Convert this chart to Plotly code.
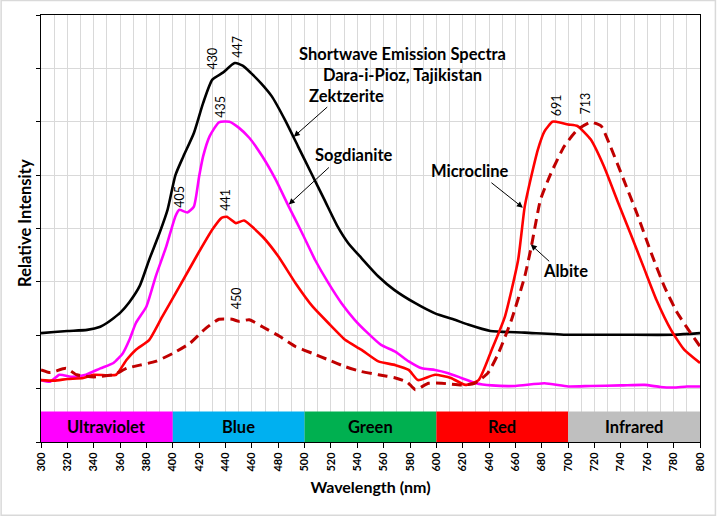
import plotly.graph_objects as go

# wavelength (nm) / relative intensity
zek_wl = [300, 310, 320, 335, 345, 350, 355, 360, 367, 375, 382, 390, 396, 402, 408, 416, 423, 430, 438, 447,
          453, 459, 467, 475, 485, 495, 505, 515, 525, 533, 543, 556, 568, 584, 599, 614, 624, 641, 667, 700,
          740, 780, 800]
zek_int = [2.04, 2.06, 2.08, 2.10, 2.16, 2.23, 2.32, 2.42, 2.62, 2.93, 3.41, 3.92, 4.35, 5.00, 5.35, 5.79, 6.35,
           6.79, 6.92, 7.10, 7.05, 6.92, 6.72, 6.48, 6.04, 5.54, 5.04, 4.54, 4.04, 3.73, 3.45, 3.10, 2.85, 2.60,
           2.41, 2.29, 2.20, 2.08, 2.05, 2.01, 2.01, 2.01, 2.04]

sog_wl = [300, 307, 314, 324, 334, 345, 355, 362, 367, 372, 380, 387, 395, 402, 405, 411, 416, 420, 423, 428,
          435, 443, 450, 458, 468, 478, 488, 498, 508, 518, 528, 538, 548, 558, 569, 579, 589, 599, 609, 619,
          630, 642, 660, 682, 700, 717, 740, 758, 770, 780, 790, 800]
sog_int = [1.16, 1.13, 1.26, 1.22, 1.26, 1.38, 1.48, 1.66, 1.91, 2.23, 2.54, 3.10, 3.66, 4.23, 4.35, 4.30, 4.41,
           4.98, 5.35, 5.73, 5.99, 6.00, 5.89, 5.70, 5.35, 4.92, 4.41, 3.92, 3.41, 2.98, 2.60, 2.29, 2.04, 1.82,
           1.69, 1.51, 1.38, 1.35, 1.29, 1.20, 1.10, 1.06, 1.05, 1.10, 1.04, 1.05, 1.06, 1.07, 1.03, 1.02, 1.04,
           1.04]

mic_wl = [300, 310, 320, 332, 340, 350, 357, 365, 372, 382, 392, 405, 418, 430, 437, 441, 448, 454, 468, 480,
          493, 506, 518, 531, 543, 556, 569, 579, 586, 599, 611, 622, 632, 642, 652, 662, 667, 672, 677, 682,
          688, 691, 700, 707, 717, 727, 737, 747, 757, 767, 778, 788, 800]
mic_int = [1.16, 1.15, 1.18, 1.20, 1.26, 1.25, 1.26, 1.54, 1.73, 1.91, 2.35, 2.91, 3.48, 3.98, 4.20, 4.22, 4.10,
           4.15, 3.85, 3.48, 2.98, 2.54, 2.23, 1.91, 1.73, 1.51, 1.44, 1.35, 1.16, 1.26, 1.20, 1.07, 1.16, 1.73,
           2.35, 3.41, 4.41, 4.98, 5.48, 5.82, 6.00, 6.00, 5.95, 5.92, 5.67, 5.17, 4.54, 3.92, 3.29, 2.66, 2.10,
           1.73, 1.48]

alb_wl = [300, 307, 319, 327, 340, 355, 365, 375, 387, 400, 413, 425, 435, 445, 450, 458, 468, 481, 493, 506,
          518, 531, 543, 556, 569, 578, 584, 594, 604, 619, 629, 639, 647, 657, 667, 672, 679, 687, 697, 707,
          717, 725, 732, 742, 752, 763, 773, 783, 793, 800]
alb_int = [1.35, 1.30, 1.38, 1.26, 1.22, 1.26, 1.38, 1.44, 1.51, 1.66, 1.85, 2.13, 2.30, 2.30, 2.26, 2.29, 2.16,
           1.98, 1.79, 1.66, 1.54, 1.41, 1.32, 1.26, 1.20, 1.12, 0.98, 1.10, 1.10, 1.07, 1.10, 1.29, 1.66, 2.29,
           3.10, 3.66, 4.54, 5.04, 5.54, 5.85, 5.99, 5.92, 5.54, 4.92, 4.29, 3.54, 2.91, 2.41, 2.04, 1.79]

# spectral bands along the bottom
band_names = ["Ultraviolet", "Blue", "Green", "Red", "Infrared"]
band_start = [300, 400, 500, 600, 700]
band_end = [400, 500, 600, 700, 800]
band_colors = ["#FF00FF", "#00B0F0", "#00B050", "#FF0000", "#BFBFBF"]

# peak labels: text, wavelength, height of label centre
peak_text = ["430", "447", "435", "405", "441", "450", "691", "713"]
peak_x = [430, 449, 436.5, 405, 440, 449, 690.7, 713.4]
peak_y = [7.19, 7.41, 6.28, 4.60, 4.53, 2.70, 6.31, 6.34]

FONT = "Lato"
BAND_TOP = 0.57
BOLD = dict(family=FONT, size=16.5, color="black", weight="bold")

fig = go.Figure()
fig.add_trace(go.Scatter(x=zek_wl, y=zek_int, mode="lines", name="Zektzerite",
                         line=dict(color="black", width=2.6, shape="spline", smoothing=0.6)))
fig.add_trace(go.Scatter(x=sog_wl, y=sog_int, mode="lines", name="Sogdianite",
                         line=dict(color="#FF00FF", width=2.6, shape="spline", smoothing=0.5)))
fig.add_trace(go.Scatter(x=mic_wl, y=mic_int, mode="lines", name="Microcline",
                         line=dict(color="#FF0000", width=2.6, shape="spline", smoothing=0.5)))
fig.add_trace(go.Scatter(x=alb_wl, y=alb_int, mode="lines", name="Albite",
                         line=dict(color="#C00000", width=3, dash="10px,6px", shape="spline", smoothing=0.5)))

shapes = []
annotations = []
for name, x0, x1, c in zip(band_names, band_start, band_end, band_colors):
    shapes.append(dict(type="rect", xref="x", yref="y", x0=x0, x1=x1, y0=0, y1=BAND_TOP,
                       fillcolor=c, line=dict(width=0), layer="above"))
    annotations.append(dict(x=(x0 + x1) / 2, y=BAND_TOP / 2, xref="x", yref="y", text=name,
                            showarrow=False, font=BOLD))

# outer frame of the whole picture
shapes.append(dict(type="rect", xref="paper", yref="paper", x0=-0.0605, x1=1.0234, y0=-0.1715, y1=1.0340,
                   line=dict(color="#D9D9D9", width=1.5)))

for t, x, y in zip(peak_text, peak_x, peak_y):
    annotations.append(dict(x=x, y=y, xref="x", yref="y", text=t, textangle=-90, showarrow=False,
                            font=dict(family=FONT, size=12.5, color="black")))

# curve names with pointer arrows
labels = [("Zektzerite", 531.8, 6.48, 518.3, 6.30, 491.8, 5.72),
          ("Sogdianite", 537.4, 5.37, 519.6, 5.17, 488.0, 4.45),
          ("Microcline", 625.6, 5.07, 640.6, 4.88, 665.6, 4.39),
          ("Albite", 698.0, 3.21, 686.7, 3.36, 671.6, 3.70)]
for text, tx, ty, ax, ay, hx, hy in labels:
    annotations.append(dict(x=tx, y=ty, xref="x", yref="y", text=text, showarrow=False, font=BOLD))
    annotations.append(dict(x=hx, y=hy, ax=ax, ay=ay, xref="x", yref="y", axref="x", ayref="y", text="",
                            showarrow=True, arrowhead=2, arrowsize=1.2, arrowwidth=1, arrowcolor="black"))

annotations.append(dict(x=0.549, y=0.937, xref="paper", yref="paper",
                        text="Shortwave Emission Spectra<br>Dara-i-Pioz, Tajikistan", showarrow=False,
                        font=BOLD))
annotations.append(dict(x=-0.0235, y=0.512, xref="paper", yref="paper", text="Relative Intensity",
                        textangle=-90, showarrow=False, xanchor="center", font=BOLD))

fig.update_layout(
    width=718, height=516,
    margin=dict(l=41, r=16, t=15, b=74),
    paper_bgcolor="white", plot_bgcolor="white",
    showlegend=False,
    shapes=shapes, annotations=annotations,
    xaxis=dict(range=[300, 800], dtick=20, tick0=300, tickangle=-90,
               showgrid=True, gridcolor="#D9D9D9", gridwidth=1,
               minor=dict(dtick=10, showgrid=True, gridcolor="#D9D9D9", gridwidth=1),
               ticks="outside", ticklen=5, tickcolor="black",
               showline=True, linecolor="black", linewidth=1, mirror=True, zeroline=False,
               tickfont=dict(family=FONT, size=11, color="black", weight="bold"),
               title=dict(text="Wavelength (nm)", standoff=11,
                          font=dict(family=FONT, size=16, color="black", weight="bold"))),
    yaxis=dict(range=[0, 8], dtick=1, showticklabels=False,
               showgrid=True, gridcolor="#D9D9D9", gridwidth=1,
               ticks="outside", ticklen=4, tickcolor="black",
               showline=True, linecolor="black", linewidth=1, mirror=True, zeroline=False),
)

fig.write_html("out.html", post_script="document.body.style.margin='0';",
               config={"displayModeBar": False})
